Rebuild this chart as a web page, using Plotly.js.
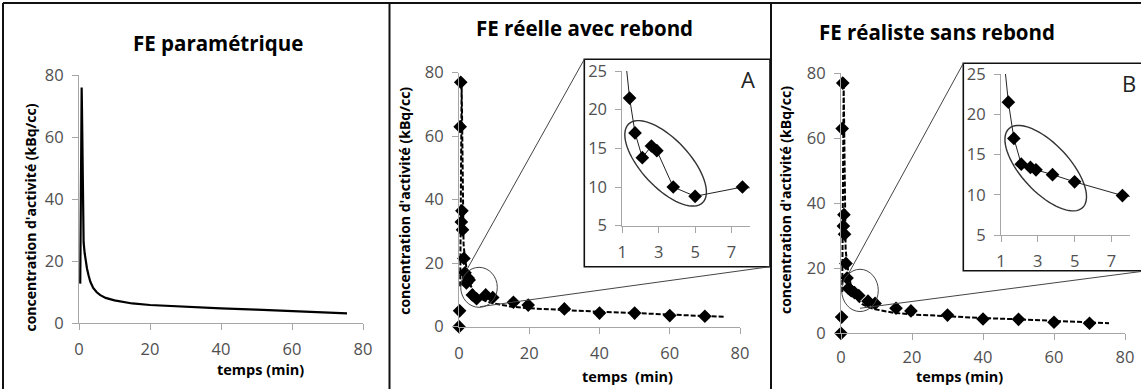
<!DOCTYPE html>
<html><head><meta charset="utf-8">
<script src="https://cdn.plot.ly/plotly-3.0.1.min.js"></script>
<style>html,body{margin:0;padding:0;background:#fff;} #chart{width:1141px;height:389px;}</style>
</head><body><div id="chart"></div>
<script>
// ---- data ----
const time = [0, 0.17, 0.33, 0.5, 0.67, 0.83, 1.0, 1.4, 1.7, 2.1, 2.6, 2.9, 3.8, 5.0, 7.6, 9.6, 15.5, 19.7, 30, 40, 50, 60, 70];
const activityRebound = [0, 5, 63, 77, 33, 36.5, 30.5, 21.5, 17, 13.8, 15.3, 14.7, 10, 8.8, 10, 9.2, 7.7, 6.8, 5.6, 4.3, 4.3, 3.5, 3.3];
const activityNoRebound = [0, 5, 63, 77, 33, 36.5, 30.5, 21.5, 17, 13.8, 13.4, 13.1, 12.5, 11.6, 9.9, 9.2, 7.7, 6.9, 5.6, 4.4, 4.3, 3.4, 3.1];
const fitTime = [0.35, 0.5, 0.65, 0.75, 0.85, 1.0, 1.13, 1.3, 1.6, 2.0, 2.25, 2.7, 3.2, 4.0, 5.0, 6.0, 7.5, 10, 12.5, 15, 20, 25, 30, 40, 50, 60, 70, 75.5];
const fitValue = [12.7, 45, 70, 76, 68, 45, 31, 26, 22.5, 19, 17.6, 15.3, 13.3, 11.3, 9.9, 9.0, 8.1, 7.3, 6.7, 6.3, 5.8, 5.5, 5.2, 4.7, 4.3, 3.8, 3.4, 3.1];
const mainTicks = [0, 20, 40, 60, 80];
const insetXTicks = [1, 3, 5, 7];
const insetYTicks = [5, 10, 15, 20, 25];
const panelTitles = ['FE paramétrique', 'FE réelle avec rebond', 'FE réaliste sans rebond'];
const xTitles = ['temps (min)', 'temps  (min)', 'temps (min)'];
const yTitle = "concentration d'activité (kBq/cc)";
const insetLetters = ['A', 'B'];

// ---- layout helpers (pixel -> paper) ----
const W = 1141, H = 389;
const fx = v => v / W;
const fy = v => 1 - v / H;
const FONT = 'Open Sans, Arial, sans-serif';

function axisStyle(extra) {
  return Object.assign({
    showgrid: false, zeroline: false, showline: true, linecolor: '#a6a6a6', linewidth: 1,
    ticks: 'outside', ticklen: 6, tickcolor: '#a6a6a6', ticklabelstandoff: 5,
    tickfont: {family: FONT, size: 16.5, color: '#505050'}, fixedrange: true
  }, extra);
}

const layout = {
  width: W, height: H, margin: {l: 0, r: 0, t: 0, b: 0},
  paper_bgcolor: '#fff', plot_bgcolor: 'rgba(0,0,0,0)', showlegend: false, hovermode: false,
  xaxis:  axisStyle({domain: [fx(79), fx(363)], range: [0, 80], tickvals: mainTicks, anchor: 'y'}),
  yaxis:  axisStyle({domain: [fy(323), fy(75)], range: [0, 80], tickvals: mainTicks, anchor: 'x'}),
  xaxis2: axisStyle({domain: [fx(459), fx(740)], range: [0, 80], tickvals: mainTicks, anchor: 'y2'}),
  yaxis2: axisStyle({domain: [fy(326.7), fy(72.7)], range: [0, 80], tickvals: mainTicks, anchor: 'x2'}),
  xaxis3: axisStyle({domain: [fx(841), fx(1125)], range: [0, 80], tickvals: mainTicks, anchor: 'y3', ticklabelstandoff: 3}),
  yaxis3: axisStyle({domain: [fy(333.3), fy(73.3)], range: [0, 80], tickvals: mainTicks, anchor: 'x3'}),
  xaxis4: axisStyle({domain: [fx(622.3), fx(749.7)], range: [1, 8], tickvals: insetXTicks, anchor: 'y4'}),
  yaxis4: axisStyle({domain: [fy(225.7), fy(71)], range: [5, 25], tickvals: insetYTicks, anchor: 'x4'}),
  xaxis5: axisStyle({domain: [fx(1001), fx(1129.8)], range: [1, 8], tickvals: insetXTicks, anchor: 'y5'}),
  yaxis5: axisStyle({domain: [fy(235), fy(74)], range: [5, 25], tickvals: insetYTicks, anchor: 'x5'}),
};

function toPaper(xa, ya, x, y) {
  const X = layout[xa], Y = layout[ya];
  return [X.domain[0] + (x - X.range[0]) / (X.range[1] - X.range[0]) * (X.domain[1] - X.domain[0]),
          Y.domain[0] + (y - Y.range[0]) / (Y.range[1] - Y.range[0]) * (Y.domain[1] - Y.domain[0])];
}
function pxPerUnit(axName, isY) {
  const A = layout[axName];
  return (A.domain[1] - A.domain[0]) * (isY ? H : W) / (A.range[1] - A.range[0]);
}
function ellipsePath(xa, ya, cx, cy, a, b, angDeg) {
  const kx = pxPerUnit(xa, false), ky = pxPerUnit(ya, true);
  const th = angDeg * Math.PI / 180;
  let d = '';
  for (let i = 0; i <= 72; i++) {
    const p = i / 72 * 2 * Math.PI;
    const dx = a * Math.cos(p) * Math.cos(th) - b * Math.sin(p) * Math.sin(th);
    const dy = a * Math.cos(p) * Math.sin(th) + b * Math.sin(p) * Math.cos(th);
    d += (i === 0 ? 'M' : 'L') + (cx + dx / kx).toFixed(4) + ',' + (cy - dy / ky).toFixed(4);
  }
  return d + 'Z';
}

// ---- traces ----
const black = '#000';
const mk = {symbol: 'diamond', size: 10.5, color: black};
const traces = [
  {x: fitTime, y: fitValue, xaxis: 'x', yaxis: 'y', mode: 'lines', line: {color: black, width: 2.2}},
  {x: fitTime, y: fitValue, xaxis: 'x2', yaxis: 'y2', mode: 'lines', line: {color: black, width: 2, dash: '5px,2px'}},
  {x: time, y: activityRebound, xaxis: 'x2', yaxis: 'y2', mode: 'markers', cliponaxis: false, marker: mk},
  {x: fitTime, y: fitValue, xaxis: 'x3', yaxis: 'y3', mode: 'lines', line: {color: black, width: 2, dash: '5px,2px'}},
  {x: time, y: activityNoRebound, xaxis: 'x3', yaxis: 'y3', mode: 'markers', cliponaxis: false, marker: mk},
  {x: time, y: activityRebound, xaxis: 'x4', yaxis: 'y4', mode: 'lines+markers',
   line: {color: '#222', width: 1}, marker: mk},
  {x: time, y: activityNoRebound, xaxis: 'x5', yaxis: 'y5', mode: 'lines+markers',
   line: {color: '#222', width: 1}, marker: mk},
];

// ---- shapes ----
const thin = {color: '#444', width: 1};
const shapes = [
  // panel frame
  {type: 'line', xref: 'paper', yref: 'paper', x0: fx(3), x1: 1, y0: fy(3), y1: fy(3), line: {color: '#111', width: 2}},
  {type: 'line', xref: 'paper', yref: 'paper', x0: fx(3), x1: fx(3), y0: fy(3), y1: 0, line: {color: '#111', width: 2}},
  {type: 'line', xref: 'paper', yref: 'paper', x0: fx(389.5), x1: fx(389.5), y0: fy(3), y1: 0, line: {color: '#111', width: 2}},
  {type: 'line', xref: 'paper', yref: 'paper', x0: fx(771), x1: fx(771), y0: fy(3), y1: 0, line: {color: '#111', width: 2}},
  // inset boxes
  {type: 'rect', xref: 'paper', yref: 'paper', x0: fx(584.3), x1: fx(770), y0: fy(266.7), y1: fy(59.3), line: {color: '#111', width: 1.6}},
  {type: 'rect', xref: 'paper', yref: 'paper', x0: fx(963.3), x1: fx(1150), y0: fy(270.7), y1: fy(63.3), line: {color: '#111', width: 1.6}},
  // zoom circles on main plots
  {type: 'circle', xref: 'x2', yref: 'y2', x0: 0.5, x1: 10.9, y0: 6.1, y1: 18.7, line: thin},
  {type: 'circle', xref: 'x3', yref: 'y3', x0: 0.2, x1: 10.5, y0: 6.7, y1: 19.7, line: thin},
  // ellipses in insets
  {type: 'path', xref: 'x4', yref: 'y4', path: ellipsePath('xaxis4', 'yaxis4', 3.38, 13.06, 54, 24, 47), line: {color: '#333', width: 1.4}},
  {type: 'path', xref: 'x5', yref: 'y5', path: ellipsePath('xaxis5', 'yaxis5', 3.43, 13.3, 54, 24, 47), line: {color: '#333', width: 1.4}},
];
// connector lines (main circle -> inset corners)
function connector(xa, ya, x, y, cornerPx, cornerPy) {
  const p = toPaper(xa, ya, x, y);
  return {type: 'line', xref: 'paper', yref: 'paper', x0: p[0], y0: p[1], x1: fx(cornerPx), y1: fy(cornerPy), line: thin};
}
shapes.push(connector('xaxis2', 'yaxis2', 2.2, 17.9, 584.3, 59.3));
shapes.push(connector('xaxis2', 'yaxis2', 6.0, 6.3, 770, 266.7));
shapes.push(connector('xaxis3', 'yaxis3', 2.2, 18.5, 963.3, 63.3));
shapes.push(connector('xaxis3', 'yaxis3', 5.35, 7.7, 1141, 271.5));
layout.shapes = shapes;

// ---- text ----
function ann(text, x, y, size, opts) {
  return Object.assign({text: text, xref: 'paper', yref: 'paper', x: fx(x), y: fy(y), showarrow: false,
    xanchor: 'center', yanchor: 'middle', font: {family: FONT, size: size, color: '#000'}}, opts || {});
}
layout.annotations = [
  ann('<b>' + panelTitles[0] + '</b>', 218, 43, 20.5),
  ann('<b>' + panelTitles[1] + '</b>', 584, 28, 20.5),
  ann('<b>' + panelTitles[2] + '</b>', 937, 32, 20.5),
  ann('<b>' + xTitles[0] + '</b>', 260, 369, 14.5),
  ann('<b>' + xTitles[1] + '</b>', 628, 376, 14.5),
  ann('<b>' + xTitles[2] + '</b>', 959, 376, 14.5),
  ann('<b>' + yTitle + '</b>', 30, 217.5, 14, {textangle: -90}),
  ann('<b>' + yTitle + '</b>', 405, 200.8, 14, {textangle: -90}),
  ann('<b>' + yTitle + '</b>', 785, 200, 14, {textangle: -90}),
  ann(insetLetters[0], 748, 79, 22, {font: {family: FONT, size: 22, color: '#222'}}),
  ann(insetLetters[1], 1129, 83, 22, {font: {family: FONT, size: 22, color: '#222'}}),
];

Plotly.newPlot('chart', traces, layout, {displayModeBar: false, staticPlot: true});
</script>
</body></html>
